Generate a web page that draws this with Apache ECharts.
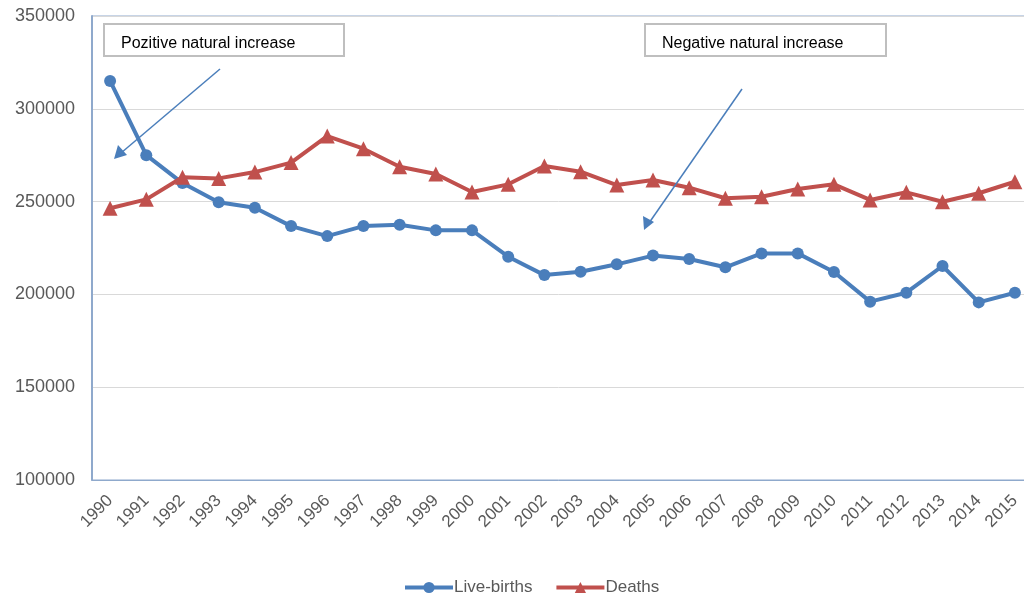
<!DOCTYPE html>
<html>
<head>
<meta charset="utf-8">
<script src="https://cdn.jsdelivr.net/npm/echarts@6/dist/echarts.min.js"></script>
<style>
  html, body { margin: 0; padding: 0; background: #fff; }
  #main { width: 1024px; height: 601px; }
</style>
</head>
<body>
<div id="main"></div>
<script>
const years = ["1990", "1991", "1992", "1993", "1994", "1995", "1996", "1997", "1998", "1999",
  "2000", "2001", "2002", "2003", "2004", "2005", "2006", "2007", "2008", "2009",
  "2010", "2011", "2012", "2013", "2014", "2015"];
const liveBirths = [315000, 275000, 260000, 249600, 246700, 236800, 231400, 236800, 237500, 234500,
  234500, 220300, 210400, 212200, 216200, 220900, 219100, 214600, 222100, 222100,
  212100, 196100, 200900, 215300, 195700, 200900];
const deaths = [246400, 251200, 263100, 262500, 265900, 271000, 285300, 278500, 268800, 264900,
  255200, 259300, 269200, 266100, 258900, 261600, 257500, 251800, 252600, 256800,
  259300, 250900, 255000, 249900, 254500, 260700];
const yTicks = [100000, 150000, 200000, 250000, 300000, 350000];

const chart = echarts.init(document.getElementById("main"));

const arrowColor = "#4a7ebb";
const axisBlue = "#8fa9cc";
const boxStyle = { fill: "#fff", stroke: "#bfbfbf", lineWidth: 2 };
const labelFont = "16px 'Liberation Sans', Arial, sans-serif";

let option = {
  backgroundColor: "#fff",
  animation: false,
  grid: {
    left: 92,
    top: 16,
    width: 941,
    height: 464,
    outerBoundsMode: "none",
    containLabel: false,
    show: true,
    borderColor: axisBlue,
    borderWidth: 1
  },
  xAxis: {
    type: "category",
    data: years,
    boundaryGap: true,
    axisLine: { lineStyle: { color: axisBlue, width: 1 } },
    axisTick: { show: false },
    axisLabel: {
      rotate: 45,
      color: "#595959",
      fontFamily: "Liberation Sans",
      fontSize: 17,
      margin: 18,
      interval: 0
    }
  },
  yAxis: {
    type: "value",
    min: yTicks[0],
    max: yTicks[yTicks.length - 1],
    interval: 50000,
    axisLine: { show: true, lineStyle: { color: axisBlue, width: 2 } },
    axisTick: { show: false },
    splitLine: { lineStyle: { color: "#d9d9d9", width: 1 } },
    axisLabel: {
      color: "#595959",
      fontFamily: "Liberation Sans",
      fontSize: 18,
      margin: 17,
      formatter: (v) => String(v)
    }
  },
  legend: {
    bottom: 0,
    left: 398,
    itemWidth: 48,
    itemHeight: 14,
    itemGap: 22,
    lineStyle: { width: 4 },
    textStyle: {
      color: "#595959",
      fontFamily: "Liberation Sans",
      fontSize: 17,
      padding: [0, 0, 0, -4]
    },
    data: ["Live-births", "Deaths"]
  },
  series: [
    {
      name: "Live-births",
      type: "line",
      data: liveBirths,
      symbol: "circle",
      symbolSize: 12,
      lineStyle: { color: "#4a7ebb", width: 4 },
      itemStyle: { color: "#4a7ebb" }
    },
    {
      name: "Deaths",
      type: "line",
      data: deaths,
      symbol: "triangle",
      symbolSize: 15,
      lineStyle: { color: "#c0504d", width: 4 },
      itemStyle: { color: "#c0504d" }
    }
  ],
  graphic: [
    { type: "rect", shape: { x: 104, y: 24, width: 240, height: 32 }, style: boxStyle, z: 100 },
    { type: "text", x: 121, y: 44, style: { text: "Pozitive natural increase", font: labelFont, fill: "#000", verticalAlign: "middle" }, z: 101 },
    { type: "rect", shape: { x: 645, y: 24, width: 241, height: 32 }, style: boxStyle, z: 100 },
    { type: "text", x: 662, y: 44, style: { text: "Negative natural increase", font: labelFont, fill: "#000", verticalAlign: "middle" }, z: 101 },
    { type: "line", shape: { x1: 220, y1: 69, x2: 121, y2: 153 }, style: { stroke: arrowColor, lineWidth: 1.5 }, z: 100 },
    { type: "polygon", shape: { points: [[114, 159], [118, 145], [127, 155]] }, style: { fill: arrowColor }, z: 100 },
    { type: "line", shape: { x1: 742, y1: 89, x2: 649, y2: 223 }, style: { stroke: arrowColor, lineWidth: 1.5 }, z: 100 },
    { type: "polygon", shape: { points: [[644, 230], [643, 216], [654, 222]] }, style: { fill: arrowColor }, z: 100 }
  ]
};

chart.setOption(option);
</script>
</body>
</html>
